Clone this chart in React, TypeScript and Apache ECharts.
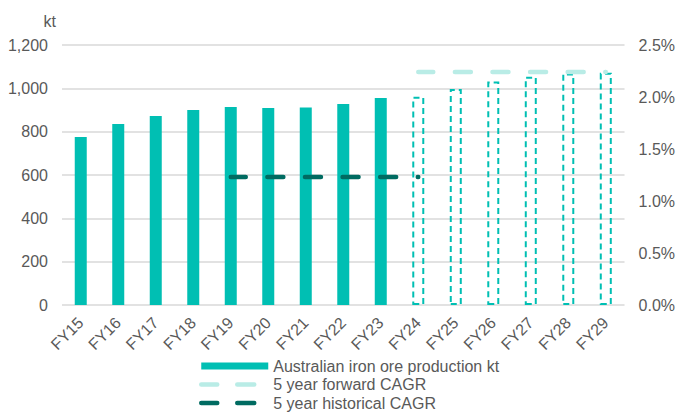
import React, { useEffect, useRef } from "react";
import * as echarts from "echarts";

const categories = ["FY15","FY16","FY17","FY18","FY19","FY20","FY21","FY22","FY23","FY24","FY25","FY26","FY27","FY28","FY29"];
const production = [775, 835, 872, 900, 914, 909, 911, 928, 955, 961, 997, 1031, 1054, 1069, 1072];
const forecastFrom = 9; // FY24 onward shown as dashed outline
const forwardCagr = [null, null, null, null, null, null, null, null, null, 2.24, 2.24, 2.24, 2.24, 2.24, 2.24];
const historicalCagr = [null, null, null, null, 1.23, 1.23, 1.23, 1.23, 1.23, 1.23, null, null, null, null, null];
const leftTicks = { min: 0, max: 1200, interval: 200 };
const rightTicks = { min: 0, max: 2.5, interval: 0.5 };

const TEAL = "#00BFB3";
const DARK = "#006B61";
const LIGHT = "#B9ECE6";
const TEXT = "#595959";
const FONT = "Liberation Sans, Arial, sans-serif";

export default function App() {
  const ref = useRef<HTMLDivElement>(null);
  useEffect(() => {
    const chart = echarts.init(ref.current!, undefined, { renderer: "svg" });
    chart.setOption({
      animation: false,
      textStyle: { fontFamily: FONT },
      grid: { left: 62, right: 52, top: 45, bottom: 107 },
      legend: {
        orient: "vertical",
        left: 199,
        top: 358,
        padding: 0,
        itemWidth: 67,
        itemHeight: 7,
        itemGap: 2.5,
        textStyle: { color: TEXT, fontSize: 16, lineHeight: 16, fontFamily: FONT },
        data: [
          { name: "Australian iron ore production kt", icon: "rect", itemStyle: { color: TEAL, borderWidth: 0 } },
          { name: "5 year forward CAGR", itemStyle: { opacity: 0 }, lineStyle: { color: LIGHT, width: 4.5, type: [17, 20], cap: "round" } },
          { name: "5 year historical CAGR", itemStyle: { opacity: 0 }, lineStyle: { color: DARK, width: 4.5, type: [17, 20], cap: "round" } },
        ],
      },
      xAxis: {
        type: "category",
        data: categories,
        axisLine: { show: false },
        axisTick: { show: false },
        axisLabel: { rotate: 45, color: TEXT, fontSize: 16, fontFamily: FONT, margin: 15, interval: 0 },
      },
      yAxis: [
        {
          type: "value",
          ...leftTicks,
          name: "kt",
          nameLocation: "end",
          nameGap: 16,
          nameTextStyle: { color: TEXT, fontSize: 16, align: "right", padding: [0, 6, 0, 0] },
          axisLabel: {
            color: TEXT,
            fontSize: 16,
            margin: 14,
            formatter: (v: number) => v.toLocaleString("en-US"),
          },
          splitLine: { lineStyle: { color: "#D9D9D9", width: 1.5 } },
        },
        {
          type: "value",
          ...rightTicks,
          position: "right",
          axisLabel: { color: TEXT, fontSize: 16, margin: 14, formatter: (v: number) => v.toFixed(1) + "%" },
          splitLine: { show: false },
        },
      ],
      series: [
        {
          name: "Australian iron ore production kt",
          type: "bar",
          barWidth: 12,
          data: production.map((v, i) =>
            i >= forecastFrom
              ? {
                  value: v,
                  itemStyle: { color: "rgba(0,0,0,0)", borderColor: TEAL, borderWidth: 2, borderType: [6, 4] },
                }
              : { value: v, itemStyle: { color: TEAL } }
          ),
        },
        {
          name: "5 year forward CAGR",
          type: "line",
          yAxisIndex: 1,
          data: forwardCagr,
          symbol: "none",
          lineStyle: { color: LIGHT, width: 4.5, type: [16, 21.6], dashOffset: 1, cap: "round" },
          itemStyle: { color: LIGHT },
          z: 3,
        },
        {
          name: "5 year historical CAGR",
          type: "line",
          yAxisIndex: 1,
          data: historicalCagr,
          symbol: "none",
          lineStyle: { color: DARK, width: 4.5, type: [16, 21.6], dashOffset: 1, cap: "round" },
          itemStyle: { color: DARK },
          z: 3,
        },
      ],
    });
    return () => chart.dispose();
  }, []);
  return <div ref={ref} style={{ position: "absolute", left: 0, top: 0, width: 678, height: 412 }} />;
}
